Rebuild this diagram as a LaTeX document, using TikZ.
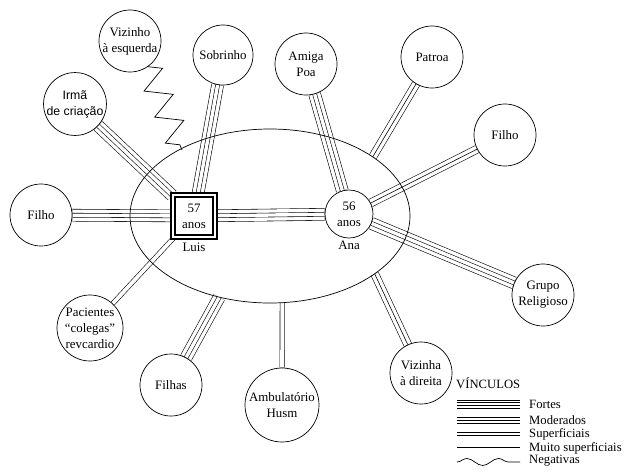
\documentclass[tikz,border=0pt]{standalone}
\usepackage{fontspec}
\setmainfont{Liberation Serif}
\setsansfont{Liberation Sans}
\usetikzlibrary{shapes.geometric,decorations.pathmorphing,backgrounds}

\tikzset{
  pessoa/.style={circle, draw, line width=0.6pt, minimum size=1.86cm, inner sep=0pt,
    align=center, font=\fontsize{11}{13.5}\selectfont},
  dupla/.style={line width=0.5pt, double, double distance=#1},
  linha/.style={line width=0.5pt},
  negativo/.style={line width=0.6pt, decorate,
    decoration={zigzag, segment length=24pt, amplitude=11pt}},
  onda/.style={line width=0.6pt, decorate,
    decoration={snake, segment length=27pt, amplitude=3pt}},
  legenda/.style={anchor=west, inner sep=0pt, font=\fontsize{10.8}{12}\selectfont}
}

% vinculos: 4, 3 e 2 linhas
\newcommand\ligforte[2]{\draw[dupla=9.7pt] (#1) -- (#2); \draw[dupla=2.9pt] (#1) -- (#2);}
\newcommand\ligmod[2]{\draw[dupla=6.3pt] (#1) -- (#2); \draw[linha] (#1) -- (#2);}
\newcommand\ligsup[2]{\draw[dupla=3.2pt] (#1) -- (#2);}

\begin{document}
\begin{tikzpicture}[x=0.03cm, y=-0.03cm]
  \useasboundingbox (0,0) rectangle (625,472);

  % familia
  \node[ellipse, draw, line width=0.6pt, minimum width=8.4cm, minimum height=5.22cm, inner sep=0pt] (fam) at (270,216) {};
  \node[draw, fill=white, double, double distance=2pt, line width=1.4pt, minimum size=1.27cm, inner sep=0pt,
    align=center, font=\fontsize{11}{13.5}\selectfont] (luis) at (194,216) {57\\anos};
  \node[pessoa, fill=white, minimum size=1.44cm] (ana) at (349,214) {56\\anos};
  \node[font=\fontsize{11}{13.5}\selectfont] (luislab) at (194,247) {Luis};
  \node[font=\fontsize{11}{13.5}\selectfont] (analab) at (349,245) {Ana};

  % rede
  \node[pessoa] (vizesq) at (130,41) {Vizinho\\à esquerda};
  \node[pessoa, minimum size=1.8cm] (sobrinho) at (223,55) {Sobrinho};
  \node[pessoa, font=\sffamily\fontsize{10.5}{13.5}\selectfont] (irma) at (75,104) {Irmã\\de criação};
  \node[pessoa] (filhoe) at (41,215) {Filho};
  \node[pessoa] (amiga) at (306,64) {Amiga\\Poa};
  \node[pessoa] (patroa) at (432,57) {Patroa};
  \node[pessoa] (filhod) at (505,135) {Filho};
  \node[pessoa] (grupo) at (543,295) {Grupo\\Religioso};
  \node[pessoa] (vizdir) at (421,373) {Vizinha\\à direita};
  \node[pessoa, minimum size=2.22cm] (amb) at (282,405) {Ambulatório\\Husm};
  \node[pessoa] (filhas) at (171,385) {Filhas};
  \node[pessoa, minimum size=1.98cm] (pac) at (90,328) {Pacientes\\``colegas''\\revcardio};
  \coordinate (zigfim) at (182,150);

  \begin{scope}[on background layer]
    \ligforte{luis}{ana}
    \ligforte{luis}{filhoe}
    \ligforte{luis}{irma}
    \ligforte{luis}{sobrinho}
    \ligsup{luis}{pac}
    \ligforte{filhas}{fam.238}
    \ligsup{amb}{fam.278}
    \ligmod{vizdir}{fam.331}
    \ligmod{patroa}{fam.30}
    \ligforte{ana}{amiga}
    \ligmod{ana}{filhod}
    \ligforte{ana}{grupo}
    \draw[negativo] (vizesq.-55) -- (zigfim);
  \end{scope}

  % legenda
  \node[legenda] (vinculos) at (456,383) {VÍNCULOS};
  \node[legenda] (tfortes) at (529,404) {Fortes};
  \node[legenda] (tmod) at (529,420) {Moderados};
  \node[legenda] (tsup) at (529,434) {Superficiais};
  \node[legenda] (tmuito) at (529,448) {Muito superficiais};
  \node[legenda] (tneg) at (529,461) {Negativas};
  \coordinate (fa) at (457,404); \coordinate (fb) at (520,404);
  \coordinate (ma) at (457,420); \coordinate (mb) at (520,420);
  \coordinate (sa) at (457,434); \coordinate (sb) at (520,434);
  \coordinate (ua) at (457,447); \coordinate (ub) at (520,447);
  \coordinate (na) at (457,462); \coordinate (nb) at (520,462);
  \foreach \d in {-3.3,-1.1,1.1,3.3}
    \draw[linha] ([yshift=\d pt]fa) -- ([yshift=\d pt]fb);
  \foreach \d in {-2.4,0,2.4}
    \draw[linha] ([yshift=\d pt]ma) -- ([yshift=\d pt]mb);
  \foreach \d in {-1.3,1.3}
    \draw[linha] ([yshift=\d pt]sa) -- ([yshift=\d pt]sb);
  \draw[linha] (ua) -- (ub);
  \draw[onda] (na) -- (nb);
\end{tikzpicture}
\end{document}
